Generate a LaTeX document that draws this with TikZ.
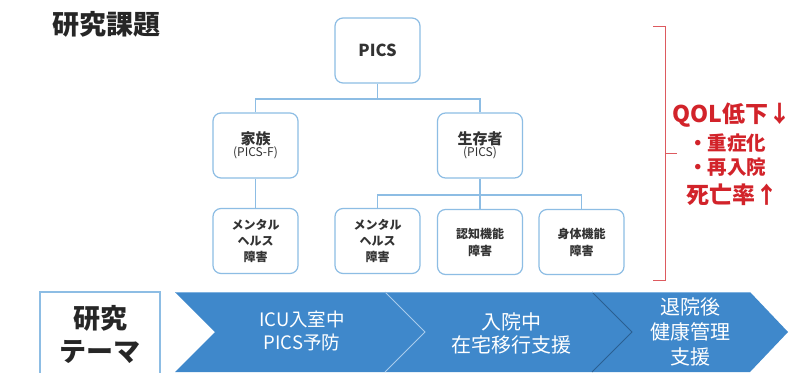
\documentclass[tikz,border=0pt]{standalone}
\usepackage{fontspec}
\setmainfont{Noto Sans CJK JP}
\definecolor{boxline}{HTML}{8DBDE4}
\definecolor{txtdark}{HTML}{333333}
\definecolor{redc}{HTML}{D2232A}
\definecolor{chev}{HTML}{3F88CB}
\definecolor{chevlight}{HTML}{A9CCEC}
\definecolor{chevdark}{HTML}{2A5F92}
\tikzset{
  rbox/.style={draw=boxline, line width=1.2pt, rounded corners=8pt, fill=white,
    minimum width=85pt, minimum height=65pt, align=center, text=txtdark, inner sep=2pt},
  conn/.style={draw=boxline, line width=1.1pt},
  redtxt/.style={text=redc, font=\bfseries\fontsize{18}{20}\selectfont, inner sep=0pt},
  chevtxt/.style={text=white, align=center, inner sep=0pt},
  chevshape/.style={fill=chev, draw=none},
}
\begin{document}
\begin{tikzpicture}[x=1pt,y=-1pt]
\useasboundingbox (0,0) rectangle (797,372);
\fill[white] (0,0) rectangle (797,372);

% title
\node[font=\bfseries\fontsize{27}{30}\selectfont, text=black!85, inner sep=0pt] (title) at (106,24) {研究課題};

% tree boxes
\node[rbox, font=\bfseries\fontsize{16.5}{18}\selectfont] (pics) at (377.5,50.5) {PICS};
\node[rbox] (fam) at (255.5,145.5) {{\bfseries\fontsize{15}{17}\selectfont 家族}\\[0pt]{\fontsize{12}{14}\selectfont (PICS-F)}};
\node[rbox] (surv) at (480,145.5) {{\bfseries\fontsize{15}{17}\selectfont 生存者}\\[0pt]{\fontsize{12}{14}\selectfont (PICS)}};
\node[rbox, font=\bfseries\fontsize{12}{16}\selectfont] (m1) at (255.5,241) {メンタル\\ヘルス\\障害};
\node[rbox, font=\bfseries\fontsize{12}{16}\selectfont] (m2) at (377.5,241) {メンタル\\ヘルス\\障害};
\node[rbox, font=\bfseries\fontsize{12}{17}\selectfont] (cog) at (480,242) {認知機能\\障害};
\node[rbox, font=\bfseries\fontsize{12}{17}\selectfont] (phy) at (581.5,242) {身体機能\\障害};

\coordinate (bus1) at (377.5,99);
\coordinate (bus2) at (480,195);
\draw[conn] (pics.south) -- (bus1);
\draw[conn] (fam.north) |- (bus1) -| (surv.north);
\draw[conn] (fam.south) -- (m1.north);
\draw[conn] (surv.south) -- (cog.north);
\draw[conn] (m2.north) |- (bus2) -| (phy.north);

% red bracket
\draw[redc!75, line width=1pt] (653,26) -- (665,26) -- (665,280) -- (653,280);
\draw[redc!75, line width=1pt] (665,153) -- (677,153);
\node[redtxt, font=\bfseries\fontsize{23}{25}\selectfont] (qol) at (732,115) {QOL低下↓};
\node[redtxt, font=\bfseries\fontsize{19.5}{21}\selectfont] (sev) at (727,143) {・重症化};
\node[redtxt, font=\bfseries\fontsize{19.5}{21}\selectfont] (readm) at (727,167) {・再入院};
\node[redtxt, font=\bfseries\fontsize{23}{25}\selectfont] (mort) at (732,195) {死亡率↑};

% bottom band
\draw[boxline, line width=1.2pt, fill=white] (40,292) rectangle (160,380);
\node[font=\bfseries\fontsize{27}{33}\selectfont, align=center, text=black!85, inner sep=0pt] (theme) at (100,334) {研究\\テーマ};

\fill[chevshape] (175,292) -- (385,292) -- (425,332) -- (385,372) -- (175,372) -- (215,332) -- cycle;
\fill[chevshape] (385,292) -- (592,292) -- (632,332) -- (592,372) -- (385,372) -- (425,332) -- cycle;
\fill[chevshape] (592,292) -- (750,292) -- (788,332) -- (750,372) -- (592,372) -- (632,332) -- cycle;
\draw[chevlight, line width=0.9pt] (385,292) -- (425,332) -- (385,372);
\draw[chevdark, line width=0.9pt] (592,292) -- (632,332) -- (592,372);
\draw[chevlight!60!chev, line width=0.8pt] (175,292.5) -- (750,292.5);

\node[chevtxt, font=\fontsize{18.5}{23}\selectfont] (c1) at (302,331) {ICU入室中\\PICS予防};
\node[chevtxt, font=\fontsize{20}{23}\selectfont] (c2) at (511,333) {入院中\\在宅移行支援};
\node[chevtxt, font=\fontsize{20}{25}\selectfont] (c3) at (690,332) {退院後\\健康管理\\支援};
\end{tikzpicture}
\end{document}
